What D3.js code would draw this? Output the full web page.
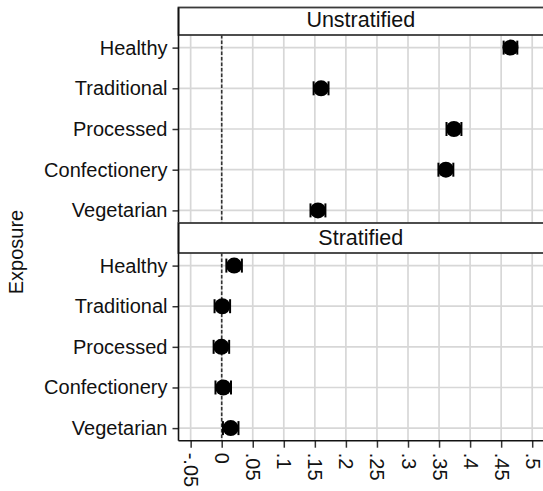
<!DOCTYPE html>
<html>
<head>
<meta charset="utf-8">
<script src="https://cdn.jsdelivr.net/npm/d3@7"></script>
<style>
  html, body { margin: 0; padding: 0; background: #fff; }
  svg { display: block; font-family: "Liberation Sans", Arial, sans-serif; }
</style>
</head>
<body>
<svg id="chart" width="543" height="491"></svg>
<script>
// ---- data ----
const categories = ["Healthy", "Traditional", "Processed", "Confectionery", "Vegetarian"];
const panels = ["Unstratified", "Stratified"];
const unstratEst = [0.465, 0.160, 0.374, 0.361, 0.155];
const unstratLo  = [0.454, 0.148, 0.362, 0.349, 0.143];
const unstratHi  = [0.476, 0.172, 0.386, 0.373, 0.167];
const stratEst   = [0.020, 0.001, -0.0005, 0.0025, 0.0145];
const stratLo    = [0.0075, -0.0115, -0.013, -0.010, 0.002];
const stratHi    = [0.0325, 0.0135, 0.012, 0.015, 0.027];
const xTicks = [-0.05, 0, 0.05, 0.1, 0.15, 0.2, 0.25, 0.3, 0.35, 0.4, 0.45, 0.5];
const xTickLabels = ["-.05", "0", ".05", ".1", ".15", ".2", ".25", ".3", ".35", ".4", ".45", ".5"];
const yTitle = "Exposure";

const seriesByPanel = [
  { est: unstratEst, lo: unstratLo, hi: unstratHi },
  { est: stratEst, lo: stratLo, hi: stratHi }
];

// ---- layout ----
const svg = d3.select("#chart");
const left = 178.5, right = 548;
const x = d3.scaleLinear().domain([0, 0.5]).range([221.7, 532.2]);
const xmin = x.invert(left), xmax = x.invert(right);
const xs = d3.scaleLinear().domain([xmin, xmax]).range([left, right]);

const panelBoxes = [
  { stripTop: 7.5, stripBot: 35, bottom: 223 },
  { stripTop: 223, stripBot: 253, bottom: 440.7 }
];
const gridColor = "#d7d7d7";
const frameColor = "#3a3a3a";
const fontSize = 20;

panelBoxes.forEach((b, pi) => {
  const y = d3.scalePoint().domain(categories).range([b.stripBot, b.bottom]).padding(0.31);
  const g = svg.append("g");

  // grid
  g.append("g").selectAll("line.v").data(xTicks).join("line")
    .attr("x1", d => xs(d)).attr("x2", d => xs(d))
    .attr("y1", b.stripBot).attr("y2", b.bottom)
    .attr("stroke", gridColor).attr("stroke-width", 1.7);
  g.append("g").selectAll("line.h").data(categories).join("line")
    .attr("x1", left).attr("x2", right)
    .attr("y1", d => y(d)).attr("y2", d => y(d))
    .attr("stroke", gridColor).attr("stroke-width", 1.7);

  // zero line
  g.append("line")
    .attr("x1", xs(0)).attr("x2", xs(0))
    .attr("y1", b.stripBot).attr("y2", b.bottom)
    .attr("stroke", "#333").attr("stroke-width", 1.6)
    .attr("stroke-dasharray", "3.5,2");

  // strip
  g.append("rect")
    .attr("x", left).attr("y", b.stripTop)
    .attr("width", right - left + 5).attr("height", b.stripBot - b.stripTop)
    .attr("fill", "#fff").attr("stroke", frameColor).attr("stroke-width", 1.8);
  g.append("text")
    .attr("x", (left + 543) / 2)
    .attr("y", b.stripBot - 8.3)
    .attr("text-anchor", "middle")
    .attr("font-size", 21.5)
    .attr("fill", "#111")
    .text(panels[pi]);

  // y axis
  const yAxis = d3.axisLeft(y).tickSize(6).tickPadding(5);
  const ya = g.append("g").attr("transform", `translate(${left},0)`).call(yAxis);
  ya.select(".domain").remove();
  ya.selectAll(".tick line").attr("stroke", "#333").attr("stroke-width", 1.5);
  ya.selectAll(".tick text").attr("font-size", fontSize).attr("fill", "#111")
    .attr("font-family", "Liberation Sans, Arial, sans-serif");
  g.append("line").attr("x1", left).attr("x2", left)
    .attr("y1", b.stripTop).attr("y2", b.bottom)
    .attr("stroke", "#111").attr("stroke-width", 1.6);

  // CI + markers
  const s = seriesByPanel[pi];
  const rows = categories.map((c, i) => ({ c, est: s.est[i], lo: s.lo[i], hi: s.hi[i] }));
  const m = g.append("g");
  m.selectAll("line.ci").data(rows).join("line")
    .attr("x1", d => xs(d.lo)).attr("x2", d => xs(d.hi))
    .attr("y1", d => y(d.c)).attr("y2", d => y(d.c))
    .attr("stroke", "#000").attr("stroke-width", 1.6);
  ["lo", "hi"].forEach(k => {
    m.selectAll("line.cap" + k).data(rows).join("line")
      .attr("x1", d => xs(d[k])).attr("x2", d => xs(d[k]))
      .attr("y1", d => y(d.c) - 7).attr("y2", d => y(d.c) + 7)
      .attr("stroke", "#000").attr("stroke-width", 2);
  });
  m.selectAll("circle").data(rows).join("circle")
    .attr("cx", d => xs(d.est)).attr("cy", d => y(d.c))
    .attr("r", 8).attr("fill", "#000");

  // bottom axis for last panel
  if (pi === panelBoxes.length - 1) {
    const xAxis = d3.axisBottom(xs).tickValues(xTicks)
      .tickFormat((d, i) => xTickLabels[i]).tickSize(7).tickPadding(0);
    const xa = g.append("g").attr("transform", `translate(0,${b.bottom})`).call(xAxis);
    xa.select(".domain").remove();
    xa.selectAll(".tick line").attr("stroke", "#333").attr("stroke-width", 1.5);
    xa.selectAll(".tick text")
      .attr("font-size", fontSize).attr("fill", "#111")
      .attr("font-family", "Liberation Sans, Arial, sans-serif")
      .attr("text-anchor", "start")
      .attr("transform", "translate(0,12) rotate(90)")
      .attr("x", 0).attr("y", 0).attr("dy", "0.35em");
    g.append("line").attr("x1", left).attr("x2", right)
      .attr("y1", b.bottom).attr("y2", b.bottom)
      .attr("stroke", "#111").attr("stroke-width", 1.6);
  }
});

// y title
svg.append("text")
  .attr("transform", "translate(23,252) rotate(-90)")
  .attr("text-anchor", "middle")
  .attr("font-size", fontSize)
  .attr("fill", "#111")
  .text(yTitle);
</script>
</body>
</html>
